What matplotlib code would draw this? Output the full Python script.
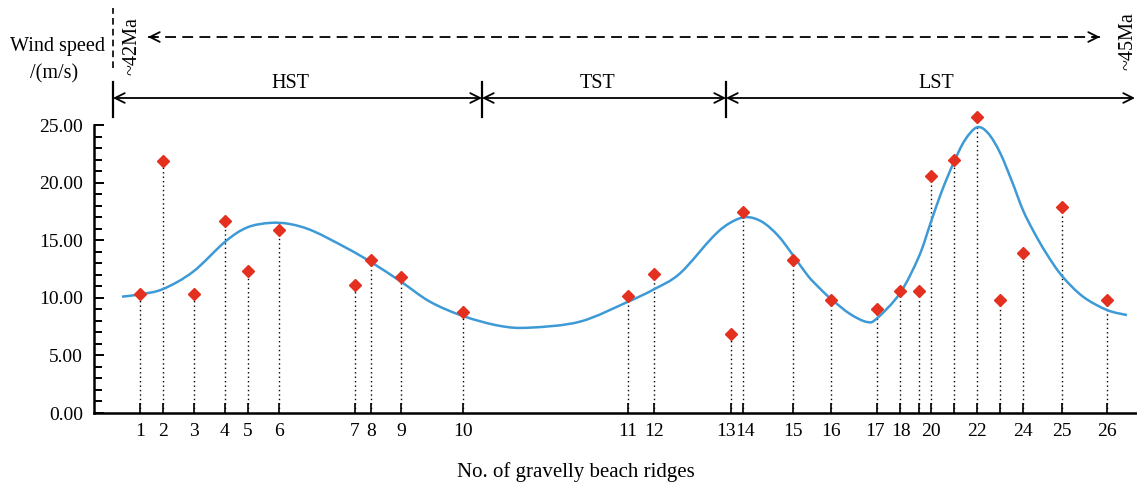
import matplotlib
matplotlib.use("Agg")
import matplotlib.pyplot as plt
from matplotlib.ticker import MultipleLocator, FormatStrFormatter
from matplotlib.path import Path
from matplotlib.patches import PathPatch
from matplotlib.transforms import ScaledTranslation

plt.rcParams['font.family'] = ['Liberation Serif', 'DejaVu Serif']

# Ridge numbers and their positions along the profile
ridge_labels = ['1', '2', '3', '4', '5', '6', '7', '8', '9', '10', '11', '12', '13',
                '14', '15', '16', '17', '18', '', '20', '', '22', '', '24', '25', '26']
ridge_pos = [46, 69, 100, 131, 154, 185, 261, 277, 307, 369, 534, 560, 637,
             649, 699, 737, 783, 806, 825, 837, 860, 883, 906, 929, 968, 1013]
# Reconstructed wind speed (m/s) for each ridge
wind_speed = [10.3, 21.85, 10.3, 16.7, 12.3, 15.9, 11.1, 13.25, 11.8, 8.8, 10.15, 12.1, 6.9,
              17.45, 13.3, 9.8, 9.0, 10.55, 10.55, 20.6, 22.0, 25.7, 9.8, 13.9, 17.9, 9.8]

# Smoothed trend of wind speed along the profile (knots of the trend line)
trend_x = [28, 46, 69, 99, 131, 153, 176, 196, 219, 253, 277, 307, 336, 369, 406, 436,
           486, 534, 560, 586, 619, 636, 652, 668, 684, 699, 714, 726, 737, 756,
           773, 783, 806, 825, 837, 848, 860, 871, 883, 894, 906, 918, 929, 940, 952, 968,
           989, 1013, 1033]
trend_y = [10.1, 10.3, 10.76, 12.26, 14.86, 16.1, 16.5, 16.4, 15.8, 14.3, 13.1, 11.4, 9.66,
           8.42, 7.56, 7.41, 7.93, 9.66, 10.74, 12.12, 15.3, 16.5, 17.0, 16.6, 15.4,
           13.7, 11.9, 10.8, 9.9, 8.6, 7.9, 8.22, 10.4, 13.6, 16.6, 19.3, 21.8, 23.7,
           24.8, 24.3, 22.6, 20.1, 17.6, 15.7, 13.9, 11.9, 10.1, 8.94, 8.5]

# Systems tracts and age span
tract_names = ['HST', 'TST', 'LST']
tract_bounds = [19, 388, 632, 1041]
tract_label_x = [196, 504, 842]
age_start, age_end = '~42Ma', '~45Ma'


def smooth_path(xs, ys):
    """Catmull-Rom curve through the knots, expressed as cubic Bezier segments."""
    pts = list(zip(xs, ys))
    verts = [pts[0]]
    codes = [Path.MOVETO]
    n = len(pts)
    for i in range(n - 1):
        p0 = pts[i - 1] if i > 0 else pts[i]
        p1 = pts[i]
        p2 = pts[i + 1]
        p3 = pts[i + 2] if i + 2 < n else pts[i + 1]
        c1 = (p1[0] + (p2[0] - p0[0]) / 6, p1[1] + (p2[1] - p0[1]) / 6)
        c2 = (p2[0] - (p3[0] - p1[0]) / 6, p2[1] - (p3[1] - p1[1]) / 6)
        verts += [c1, c2, p2]
        codes += [Path.CURVE4] * 3
    return Path(verts, codes)


W, H = 1137, 488
fig = plt.figure(figsize=(W / 100, H / 100), dpi=100)
ax = fig.add_axes([94 / W, 75 / H, 1043 / W, 288 / H])
ax.set_xlim(0, 1043)
ax.set_ylim(0, 25)

for side in ('top', 'right'):
    ax.spines[side].set_visible(False)
for side in ('left', 'bottom'):
    ax.spines[side].set_linewidth(1.8)

ax.yaxis.set_major_locator(MultipleLocator(5))
ax.yaxis.set_minor_locator(MultipleLocator(1))
ax.yaxis.set_major_formatter(FormatStrFormatter('%.2f'))
ax.tick_params(axis='y', which='major', direction='in', length=7, width=1.4,
               labelsize=14, pad=8)
ax.tick_params(axis='y', which='minor', direction='in', length=6, width=1.4)
ax.set_xticks(ridge_pos)
ax.set_xticklabels(ridge_labels)
ax.tick_params(axis='x', direction='in', length=7, width=1.2, labelsize=14, pad=7)

# nudge crowded tick labels apart
shift = {'13': -5, '14': 2, '17': -2, '18': 1}
for lab in ax.get_xticklabels():
    dx = shift.get(lab.get_text())
    if dx:
        lab.set_transform(lab.get_transform() + ScaledTranslation(dx / 100, 0, fig.dpi_scale_trans))

# dotted stems from each ridge to its value
ax.vlines(ridge_pos, 0, wind_speed, colors='black', linestyles=(0, (1, 2.2)),
          linewidth=1.0, zorder=2)
ax.add_patch(PathPatch(smooth_path(trend_x, trend_y), facecolor='none',
                       edgecolor='#3d9ad6', lw=1.8, zorder=3, clip_on=False))
ax.plot(ridge_pos, wind_speed, 'D', color='#e3301f', ms=6.5, zorder=4, clip_on=False)

trans = ax.get_xaxis_transform()


def fy(p):
    return (413 - p) / 288


# systems tract bar
bar_y = fy(98)
for x in tract_bounds[:-1]:
    ax.plot([x, x], [fy(117), fy(82)], color='black', lw=1.6, transform=trans,
            clip_on=False)
arrow_kw = dict(arrowstyle='<->,head_length=0.7,head_width=0.35', color='black',
                lw=1.3, shrinkA=0, shrinkB=0)
for i, name in enumerate(tract_names):
    x0, x1 = tract_bounds[i], tract_bounds[i + 1]
    ax.annotate('', xy=(x1, bar_y), xytext=(x0, bar_y), xycoords=trans,
                textcoords=trans, arrowprops=arrow_kw, annotation_clip=False)
    ax.text(tract_label_x[i], fy(83), name, transform=trans, ha='center', va='center',
            fontsize=14.5)

# age span arrow (dashed)
age_y = fy(37)
ax.plot([54, 1006], [age_y, age_y], color='black', lw=1.3, dashes=(6, 3.5),
        transform=trans, clip_on=False)
head_kw = dict(arrowstyle='->,head_length=0.7,head_width=0.35', color='black',
               lw=1.3, shrinkA=0, shrinkB=0)
ax.annotate('', xy=(54, age_y), xytext=(62, age_y), xycoords=trans, textcoords=trans,
            arrowprops=head_kw, annotation_clip=False)
ax.annotate('', xy=(1006, age_y), xytext=(998, age_y), xycoords=trans, textcoords=trans,
            arrowprops=head_kw, annotation_clip=False)
ax.plot([19, 19], [fy(68), fy(8)], color='black', lw=1.2, dashes=(4, 2.5),
        transform=trans, clip_on=False)
ax.text(38, fy(46), age_start, transform=trans, rotation=90, ha='center', va='center',
        fontsize=14.5)
ax.text(1034, fy(41), age_end, transform=trans, rotation=90, ha='center', va='center',
        fontsize=14.5)

fig.text(58 / W, 1 - 47 / H, 'Wind speed', ha='center', va='center', fontsize=14.5)
fig.text(54 / W, 1 - 74 / H, '/(m/s)', ha='center', va='center', fontsize=14.5)
fig.text(576 / W, 1 - 472 / H, 'No. of gravelly beach ridges', ha='center', va='center',
         fontsize=15)

fig.savefig('out.png', dpi=100)
